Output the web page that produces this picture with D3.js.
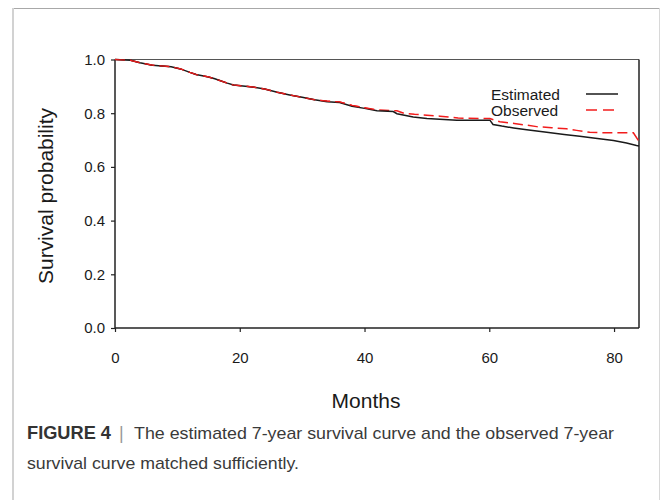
<!DOCTYPE html>
<html><head><meta charset="utf-8">
<script src="https://cdn.jsdelivr.net/npm/d3@7"></script>
<style>body{margin:0;background:#fff}svg{display:block}</style>
</head><body>
<svg id="chart" width="663" height="500"></svg>
<script>
// ---- data ----
const xTicks = [0, 20, 40, 60, 80];
const yTicks = [0.0, 0.2, 0.4, 0.6, 0.8, 1.0];
const estMonths = [0, 2.5, 4, 6, 9, 10.5, 12, 13, 15, 16, 18, 19, 22, 24, 26, 28, 30, 32, 34, 36, 38, 40, 42, 44.6, 45.2, 47.8, 50, 54.8, 60.1, 60.6, 62, 63.9, 66, 69.2, 72, 74.5, 77, 79.9, 82, 83.6, 84];
const estValues = [1.0, 0.997, 0.988, 0.979, 0.973, 0.965, 0.952, 0.944, 0.935, 0.928, 0.912, 0.905, 0.898, 0.89, 0.878, 0.868, 0.859, 0.85, 0.843, 0.84, 0.826, 0.818, 0.809, 0.806, 0.798, 0.786, 0.78, 0.774, 0.774, 0.758, 0.752, 0.745, 0.738, 0.729, 0.721, 0.714, 0.707, 0.698, 0.689, 0.68, 0.678];
const obsMonths = [0, 2.5, 4, 6, 9, 10.5, 12, 13, 15, 16, 18, 19, 22, 24, 26, 28, 30, 32, 34, 36, 38, 40, 42, 45.2, 46.3, 48, 52.1, 55, 60.1, 61.7, 64, 67.6, 70, 72.4, 74, 76.1, 78.8, 83.1, 84];
const obsValues = [1.0, 0.997, 0.988, 0.979, 0.973, 0.965, 0.952, 0.944, 0.935, 0.928, 0.912, 0.905, 0.898, 0.89, 0.878, 0.868, 0.859, 0.85, 0.845, 0.842, 0.829, 0.82, 0.812, 0.809, 0.8, 0.796, 0.789, 0.782, 0.78, 0.768, 0.762, 0.75, 0.746, 0.742, 0.736, 0.729, 0.727, 0.727, 0.695];
const legendLabels = ["Estimated", "Observed"];
const xLabel = "Months";
const yLabel = "Survival probability";
const captionBold = "FIGURE 4";
const captionLine1 = "The estimated 7-year survival curve and the observed 7-year";
const captionLine2 = "survival curve matched sufficiently.";

// ---- drawing ----
const svg = d3.select("#chart");
const font = "'Liberation Sans', Arial, sans-serif";

// outer frame
svg.append("line").attr("x1", 12).attr("x2", 660).attr("y1", 8.5).attr("y2", 8.5).attr("stroke", "#a8a8a8").attr("stroke-width", 1);
svg.append("line").attr("x1", 13).attr("x2", 13).attr("y1", 8).attr("y2", 500).attr("stroke", "#d2d2d2").attr("stroke-width", 2);
svg.append("line").attr("x1", 659.5).attr("x2", 659.5).attr("y1", 8).attr("y2", 500).attr("stroke", "#d8d8d8").attr("stroke-width", 1);

const x = d3.scaleLinear().domain([0, 84]).range([115, 639]);
const y = d3.scaleLinear().domain([0, 1]).range([328, 59.5]);

// frame of plot (top and right)
svg.append("line").attr("x1", 115).attr("x2", 639).attr("y1", 59.5).attr("y2", 59.5).attr("stroke", "#555").attr("stroke-width", 1);
svg.append("line").attr("x1", 639).attr("x2", 639).attr("y1", 59.5).attr("y2", 328).attr("stroke", "#222").attr("stroke-width", 1.5);

// axes
const xAxis = svg.append("g").attr("transform", "translate(0,328)")
  .call(d3.axisBottom(x).tickValues(xTicks).tickSize(4).tickPadding(20).tickFormat(d3.format("d")));
const yAxis = svg.append("g").attr("transform", "translate(115,0)")
  .call(d3.axisLeft(y).tickValues(yTicks).tickSize(4).tickPadding(6).tickFormat(d3.format(".1f")));
[xAxis, yAxis].forEach(g => {
  g.select(".domain").attr("stroke", "#222").attr("stroke-width", 1.5);
  g.selectAll(".tick line").attr("stroke", "#222").attr("stroke-width", 1.2);
  g.selectAll("text").attr("font-family", font).attr("font-size", 15).attr("fill", "#1a1a1a");
});
xAxis.select(".domain").attr("d", "M115,0H639");
yAxis.select(".domain").attr("d", "M0,328V59.5");

// curves
const line = d3.line().x(d => x(d[0])).y(d => y(d[1])).curve(d3.curveLinear);
const obsData = obsMonths.map((m, i) => [m, obsValues[i]]);
const estData = estMonths.map((m, i) => [m, estValues[i]]);
svg.append("path").datum(obsData).attr("d", line).attr("fill", "none")
  .attr("stroke", "#f21c1c").attr("stroke-width", 1.5).attr("stroke-dasharray", "10,5");
svg.append("path").datum(estData).attr("d", line).attr("fill", "none")
  .attr("stroke", "#1a1a1a").attr("stroke-width", 1.5);
svg.append("path").datum(obsData.filter(d => d[0] <= 42)).attr("d", line).attr("fill", "none")
  .attr("stroke", "#f21c1c").attr("stroke-width", 1.2).attr("stroke-dasharray", "10,5");

// legend
const legY = [94, 110];
const legColors = ["#1a1a1a", "#f21c1c"];
legendLabels.forEach((lab, i) => {
  svg.append("text").attr("x", 491).attr("y", legY[i] + 6).attr("font-family", font)
    .attr("font-size", 15.5).attr("fill", "#1a1a1a").text(lab);
  svg.append("line").attr("x1", 586).attr("x2", 618).attr("y1", legY[i]).attr("y2", legY[i])
    .attr("stroke", legColors[i]).attr("stroke-width", 1.5)
    .attr("stroke-dasharray", i === 1 ? "11,6" : null);
});

// axis titles
svg.append("text").attr("x", 366).attr("y", 408).attr("text-anchor", "middle")
  .attr("font-family", font).attr("font-size", 21).attr("fill", "#1a1a1a").text(xLabel);
svg.append("text").attr("transform", "translate(53,196) rotate(-90)").attr("text-anchor", "middle")
  .attr("font-family", font).attr("font-size", 20).attr("fill", "#1a1a1a")
  .attr("textLength", 176).attr("lengthAdjust", "spacingAndGlyphs").text(yLabel);

// caption
svg.append("text").attr("x", 27).attr("y", 439).attr("font-family", font).attr("font-size", 18)
  .attr("font-weight", "bold").attr("fill", "#333")
  .attr("textLength", 84).attr("lengthAdjust", "spacingAndGlyphs").text(captionBold);
svg.append("text").attr("x", 119).attr("y", 439).attr("font-family", font).attr("font-size", 18).attr("fill", "#999").text("|");
svg.append("text").attr("x", 134).attr("y", 439).attr("font-family", font).attr("font-size", 17).attr("fill", "#3a3a3a")
  .attr("textLength", 480).attr("lengthAdjust", "spacingAndGlyphs").text(captionLine1);
svg.append("text").attr("x", 27).attr("y", 469).attr("font-family", font).attr("font-size", 17).attr("fill", "#3a3a3a")
  .attr("textLength", 272).attr("lengthAdjust", "spacingAndGlyphs").text(captionLine2);
</script>
</body></html>
